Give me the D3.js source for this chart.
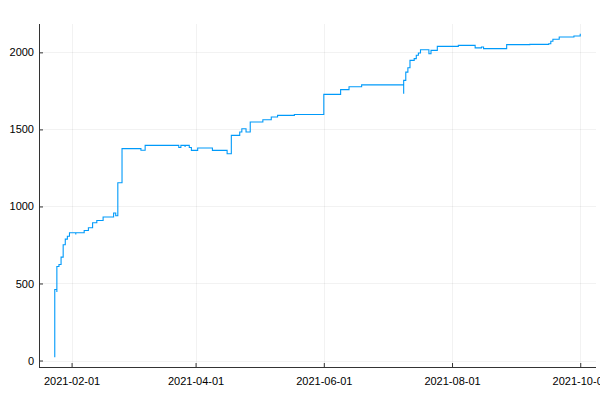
<!DOCTYPE html>
<html>
<head>
<meta charset="utf-8">
<script src="https://cdn.jsdelivr.net/npm/d3@7"></script>
<style>
  body { margin: 0; background: #fff; }
  svg { display: block; font-family: "Liberation Sans", Arial, sans-serif; }
</style>
</head>
<body>
<svg id="chart" width="600" height="400"></svg>
<script>
// Step series (date, cumulative value)
const dates = [
  "2021-01-24","2021-01-24","2021-01-25","2021-01-25","2021-01-26","2021-01-27",
  "2021-01-28","2021-01-29","2021-01-30","2021-01-31","2021-02-03","2021-02-03",
  "2021-02-07","2021-02-09","2021-02-11","2021-02-13","2021-02-16","2021-02-21",
  "2021-02-22","2021-02-23","2021-02-25","2021-03-06","2021-03-08","2021-03-24",
  "2021-03-25","2021-03-27","2021-03-27","2021-03-29","2021-03-30","2021-04-02",
  "2021-04-09","2021-04-16","2021-04-18","2021-04-22","2021-04-23","2021-04-25",
  "2021-04-27","2021-05-03","2021-05-07","2021-05-10","2021-05-18","2021-06-01",
  "2021-06-09","2021-06-13","2021-06-19","2021-07-09","2021-07-09","2021-07-10",
  "2021-07-11","2021-07-12","2021-07-14","2021-07-15","2021-07-16","2021-07-17",
  "2021-07-21","2021-07-22","2021-07-25","2021-08-04","2021-08-12","2021-08-15",
  "2021-08-16","2021-08-27","2021-09-07","2021-09-16","2021-09-17","2021-09-18",
  "2021-09-21","2021-09-28","2021-10-01"
];
const values = [
  21,461,444,610,623,671,
  751,788,807,829,818,829,
  844,862,894,909,931,957,
  940,1154,1375,1365,1396,1383,
  1396,1385,1396,1383,1364,1379,
  1364,1342,1461,1483,1504,1483,
  1548,1563,1580,1591,1597,1727,
  1758,1777,1789,1732,1818,1872,
  1900,1948,1959,1981,1996,2017,
  1991,2013,2039,2045,2029,2035,
  2024,2050,2052,2056,2072,2085,
  2100,2106,2121
];
const yTicks = [0, 500, 1000, 1500, 2000];
const xTickLabels = ["2021-02-01","2021-04-01","2021-06-01","2021-08-01","2021-10-01"];

const parse = d3.utcParse("%Y-%m-%d");
const data = dates.map((d, i) => ({ x: parse(d), y: values[i] }));

const svg = d3.select("#chart");
const mLeft = 39, mRight = 596, mTop = 24, mBottom = 367;

// Plots.jl-style 3% widening of data extents
const xExt = d3.extent(data, d => d.x);
const span = xExt[1] - xExt[0];
const x = d3.scaleUtc()
  .domain([new Date(+xExt[0] - 0.03 * span), new Date(+xExt[1] + 0.03 * span)])
  .range([mLeft, mRight]);
const yExt = d3.extent(values);
const ySpan = yExt[1] - yExt[0];
const y = d3.scaleLinear()
  .domain([yExt[0] - 0.03 * ySpan, yExt[1] + 0.03 * ySpan])
  .range([mBottom, mTop]);

const xTicks = xTickLabels.map(s => parse(s));

// grid
const grid = svg.append("g").attr("stroke", "#000").attr("stroke-opacity", 0.05).attr("stroke-width", 1);
grid.selectAll("line.gx").data(xTicks).join("line")
  .attr("x1", d => Math.round(x(d)) + 0.5).attr("x2", d => Math.round(x(d)) + 0.5)
  .attr("y1", mTop).attr("y2", mBottom);
grid.selectAll("line.gy").data(yTicks).join("line")
  .attr("x1", mLeft).attr("x2", mRight)
  .attr("y1", d => Math.round(y(d)) + 0.5).attr("y2", d => Math.round(y(d)) + 0.5);

// axes (inward ticks)
const xAxis = d3.axisBottom(x).tickValues(xTicks).tickFormat(d3.utcFormat("%Y-%m-%d"))
  .tickSizeInner(-4).tickSizeOuter(0).tickPadding(10);
const yAxis = d3.axisLeft(y).tickValues(yTicks).tickFormat(d3.format("d"))
  .tickSizeInner(-4).tickSizeOuter(0).tickPadding(5);

const gx = svg.append("g").attr("transform", `translate(0,${mBottom})`).call(xAxis);
const gy = svg.append("g").attr("transform", `translate(${mLeft},0)`).call(yAxis);
[gx, gy].forEach(g => {
  g.select(".domain").attr("stroke", "#333").attr("stroke-width", 1);
  g.selectAll(".tick line").attr("stroke", "#333");
  g.selectAll(".tick text").attr("font-size", 11).attr("fill", "#000")
    .attr("font-family", "'Liberation Sans', Arial, sans-serif");
});
gx.select(".domain").attr("d", `M${mLeft},0.5H${mRight}`);
gy.select(".domain").attr("d", `M0.5,${mBottom}V${mTop}`);

// series
const line = d3.line().x(d => x(d.x)).y(d => y(d.y)).curve(d3.curveStepAfter);
svg.append("path").datum(data)
  .attr("fill", "none").attr("stroke", "#009AFA").attr("stroke-width", 1.1)
  .attr("d", line);
</script>
</body>
</html>
